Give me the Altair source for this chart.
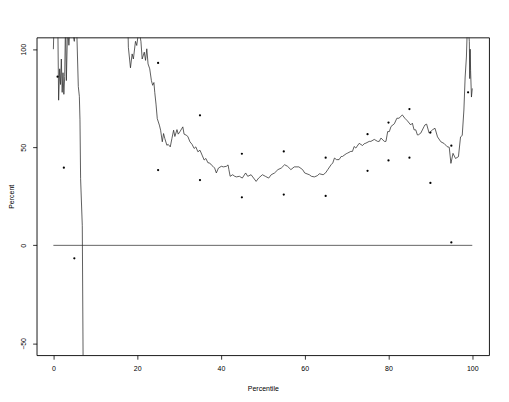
import altair as alt
import pandas as pd

# ---- data ----
# first visible stretch of the curve (it leaves the plot at the bottom near x = 7)
seg1_x = [0.0, 0.3, 1.0, 1.25, 1.5, 1.7, 1.9, 2.1, 2.3, 2.5, 2.7, 2.9, 3.1, 3.4, 3.7, 4.0, 4.5, 5.0, 5.3, 5.6,
          5.95, 6.2, 6.35, 6.5, 6.9, 7.1, 7.12]
seg1_y = [100, 125, 125, 74, 90, 82, 95, 78, 88, 77, 86, 115, 84, 112, 102, 112, 110, 104, 118, 108,
          81, 76, 64, 34, 10, -60, -400]
# second stretch (re-enters from the top near x = 18)
seg2_x = [17.5,
          17.9, 18.4, 18.8, 19.1, 19.6, 19.9, 20.4, 20.9, 21.2, 21.7, 22.0, 22.3, 22.6, 23.0, 23.4, 23.7, 24.0,
          24.2, 24.5, 24.8, 25.3, 25.6, 26.0, 26.3, 26.6, 27.1, 27.4, 27.9, 28.3, 28.7, 29.0, 29.5, 29.8, 30.2,
          30.9, 31.2, 31.7, 32.1, 32.6, 33.1, 33.6, 34.0, 34.5, 35.0, 35.5, 36.0, 36.4, 36.9, 37.3, 37.7, 38.1,
          38.5, 38.9, 39.4, 40.1, 40.6, 41.3, 41.7, 41.9, 42.2, 42.8, 43.3, 43.7, 44.4, 45.1, 45.9, 46.4, 47.2,
          47.8, 48.4, 49.0, 49.9, 50.6, 51.4, 52.0, 52.8, 53.6, 54.4, 55.2, 55.9, 56.7, 57.5, 58.6, 59.5, 60.0,
          61.1, 61.6, 62.3, 63.0, 63.5, 64.4, 65.0, 65.5, 66.3, 66.7, 67.1, 67.6, 68.2, 68.7, 69.0, 69.9, 70.2,
          71.0, 71.4, 71.8, 72.2, 73.0, 73.8, 74.2, 74.6, 75.4, 75.8, 76.6, 77.4, 77.8, 78.2, 79.0, 79.4, 79.8,
          80.2, 80.6, 81.4, 82.0, 82.5, 83.3, 83.9, 84.5, 85.3, 85.7, 86.1, 86.5, 86.9, 87.1, 87.7, 88.5, 88.7,
          89.1, 89.7, 90.5, 91.1, 91.7, 92.5, 93.3, 94.0, 94.5, 94.9, 95.4, 96.0, 96.7, 97.2, 97.6, 98.0, 98.3,
          98.6, 98.8, 99.0, 99.3, 99.4, 99.5, 99.6, 99.8, 100.0]
seg2_y = [140,
          101, 90.5, 97.6, 95, 104, 101.9, 110, 104, 95, 98.5, 94.3, 100.2, 92.5, 90, 84, 81.6, 83,
          78, 72, 64.6, 61.3, 58.7, 52.8, 57, 54.5, 51, 51.5, 50.2, 54.5, 58.7, 55.5, 59, 56.7, 57.9,
          60.4, 56.7, 56.2, 55.5, 52.8, 51.5, 49.4, 50.2, 47.7, 48.5, 46, 43.5, 44.3, 42.1, 42, 41, 40.3,
          39.4, 36.9, 39.4, 40.3, 40, 40.3, 41, 38.6, 35.2, 36, 35.2, 34.9, 35.2, 34.3, 36.9, 35.2, 36,
          34.3, 32.6, 34.3, 36, 35.2, 34.3, 36, 36.9, 38.6, 39.4, 41.1, 40.3, 38.6, 40, 40, 38.6, 36.9,
          36, 35.2, 34.9, 35.5, 36.5, 36, 37, 38.6, 41.1, 42, 44.5, 43.7, 43.7, 45.3, 45.3, 46.7, 47,
          47.9, 47.9, 50.4, 49.6, 52, 50.9, 51.8, 52.1, 53, 53, 54, 53, 53, 54.7, 53, 53, 58,
          58, 60.6, 62, 64.8, 64.8, 66.5, 64.8, 63.5, 61.4, 62.3, 58.9, 58.9, 56.3, 56.3, 57.2, 60.6, 61.4,
          61.8, 57.2, 58.9, 59.7, 55.3, 52.8, 51.9, 50.3, 50, 41.8, 46.9, 44.3, 45.2, 55.3, 56, 69, 85.8,
          96, 110, 112, 104, 85, 100, 89, 75.6, 80]

pt_x = [1, 2.5, 5, 25, 25, 35, 35, 45, 45, 55, 55, 65, 65, 75, 75, 80, 80, 85, 85, 90, 90, 95, 95, 99]
pt_y = [86, 39.6, -6.6, 93, 38.4, 66.3, 33.3, 46.7, 24.5, 47.9, 25.9, 44.7, 25.2, 56.7, 38, 62.6, 43.3,
        69.5, 44.7, 57.5, 31.8, 50.8, 1.5, 78]

ref_x_start = [0]
ref_x_end = [100]
ref_y = [0]

x_ticks = [0, 20, 40, 60, 80, 100]
y_ticks = [-50, 0, 50, 100]

# ---- tables ----
df_line = pd.DataFrame({
    "x": seg1_x + seg2_x,
    "y": seg1_y + seg2_y,
    "seg": [1] * len(seg1_x) + [2] * len(seg2_x),
    "i": list(range(len(seg1_x) + len(seg2_x))),
})
df_pts = pd.DataFrame({"x": pt_x, "y": pt_y})
df_ref = pd.DataFrame({"x": ref_x_start, "x2": ref_x_end, "y": ref_y})

FONT = "Liberation Sans"
xs = alt.Scale(domain=[-4, 104], nice=False, zero=False)
ys = alt.Scale(domain=[-56, 106], nice=False, zero=False)

x_axis = alt.Axis(values=x_ticks, title="Percentile", grid=False, domain=False,
                  tickSize=4, tickColor="black", tickWidth=0.8,
                  labelFont=FONT, labelFontSize=7, labelColor="black", labelPadding=5,
                  labelFlush=False, titleFont=FONT, titleFontSize=7, titleFontWeight="normal",
                  titleColor="black", titleY=33.6, titleBaseline="middle")
y_axis = alt.Axis(values=y_ticks, title="Percent", grid=False, domain=False,
                  tickSize=4, tickColor="black", tickWidth=0.8,
                  labelFont=FONT, labelFontSize=7, labelColor="black", labelPadding=6.5,
                  labelAngle=270, labelAlign="center", labelBaseline="bottom", labelFlush=False,
                  titleFont=FONT, titleFontSize=7, titleFontWeight="normal", titleColor="black",
                  titleX=-25, titleBaseline="middle")

X = alt.X("x:Q", scale=xs, axis=x_axis)
Y = alt.Y("y:Q", scale=ys, axis=y_axis)

line = alt.Chart(df_line).mark_line(color="#2a2a2a", strokeWidth=0.75, clip=True).encode(
    x=X, y=Y, detail="seg:N", order="i:Q")
pts = alt.Chart(df_pts).mark_circle(size=5, color="black", opacity=1).encode(x=X, y=Y)
ref = alt.Chart(df_ref).mark_rule(color="#222222", strokeWidth=0.7).encode(
    x=X, x2="x2:Q", y=Y)

chart = alt.layer(ref, line, pts).properties(
    width=453.6, height=318.6,
    autosize=alt.AutoSizeParams(type="none"),
    padding={"left": 28.7, "top": 29, "right": 12, "bottom": 40},
).configure_view(stroke="black", strokeWidth=0.9)

chart.save("out.html", embed_options={"renderer": "svg", "actions": False})
